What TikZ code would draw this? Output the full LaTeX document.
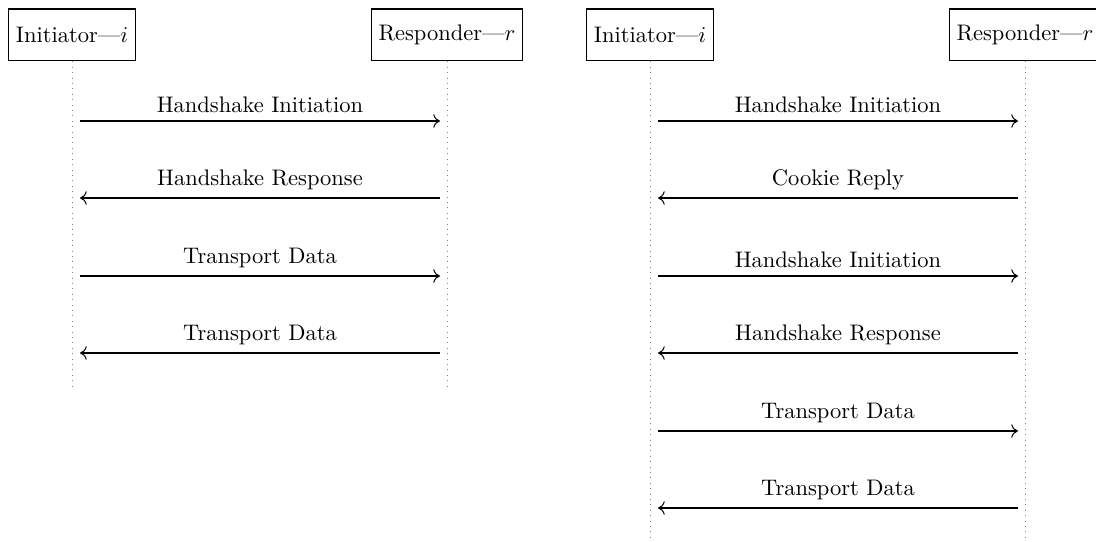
\documentclass[tikz,border=0pt]{standalone}
\usetikzlibrary{arrows.meta}
\begin{document}
\begin{tikzpicture}[x=0.4444pt,y=-0.4444pt,
  actor/.style={draw, line width=0.45pt, minimum height=23.1pt, inner sep=3.33pt},
  life/.style={dotted, gray},
  msg/.style={-{To[length=3pt,width=6pt]}, line width=0.45pt},
  lbl/.style={above}]
\useasboundingbox (0,0) rectangle (1096,542);
% left diagram
\node[actor] (i1) at (72,35) {Initiator---$i$};
\node[actor] (r1) at (447,35) {Responder---$r$};
\coordinate (i1end) at (72,390);
\coordinate (r1end) at (447,390);
\draw[life] (i1.south) -- (i1end);
\draw[life] (r1.south) -- (r1end);
\foreach \n/\y in {1/121,2/198,3/276,4/353}{
  \coordinate (a\n) at (80,\y);
  \coordinate (b\n) at (440,\y);
}
\draw[msg] (a1) -- node[lbl] {Handshake Initiation} (b1);
\draw[msg] (b2) -- node[lbl] {Handshake Response} (a2);
\draw[msg] (a3) -- node[lbl] {Transport Data} (b3);
\draw[msg] (b4) -- node[lbl] {Transport Data} (a4);
% right diagram
\node[actor] (i2) at (650,35) {Initiator---$i$};
\node[actor] (r2) at (1025,35) {Responder---$r$};
\coordinate (i2end) at (650,545);
\coordinate (r2end) at (1025,545);
\draw[life] (i2.south) -- (i2end);
\draw[life] (r2.south) -- (r2end);
\foreach \n/\y in {1/121,2/198,3/276,4/353,5/431,6/508}{
  \coordinate (c\n) at (658,\y);
  \coordinate (d\n) at (1018,\y);
}
\draw[msg] (c1) -- node[lbl] {Handshake Initiation} (d1);
\draw[msg] (d2) -- node[lbl] {Cookie Reply} (c2);
\draw[msg] (c3) -- node[lbl] {Handshake Initiation} (d3);
\draw[msg] (d4) -- node[lbl] {Handshake Response} (c4);
\draw[msg] (c5) -- node[lbl] {Transport Data} (d5);
\draw[msg] (d6) -- node[lbl] {Transport Data} (c6);
\end{tikzpicture}
\end{document}
